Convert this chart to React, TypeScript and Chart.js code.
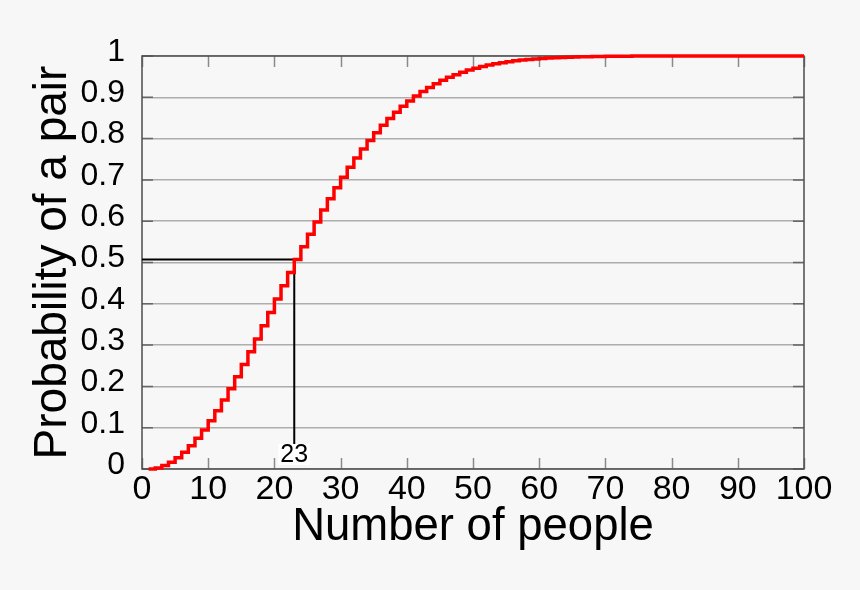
import React, { useEffect, useRef } from "react";
import { Chart, registerables } from "chart.js";

Chart.register(...registerables);

// Number of people (1..100)
const people: number[] = [
  1, 2, 3, 4, 5, 6, 7, 8, 9, 10,
  11, 12, 13, 14, 15, 16, 17, 18, 19, 20,
  21, 22, 23, 24, 25, 26, 27, 28, 29, 30,
  31, 32, 33, 34, 35, 36, 37, 38, 39, 40,
  41, 42, 43, 44, 45, 46, 47, 48, 49, 50,
  51, 52, 53, 54, 55, 56, 57, 58, 59, 60,
  61, 62, 63, 64, 65, 66, 67, 68, 69, 70,
  71, 72, 73, 74, 75, 76, 77, 78, 79, 80,
  81, 82, 83, 84, 85, 86, 87, 88, 89, 90,
  91, 92, 93, 94, 95, 96, 97, 98, 99, 100,
];

// Probability of a shared birthday
const probability: number[] = [
  0, 0.0027, 0.0082, 0.0164, 0.0271, 0.0405, 0.0562, 0.0743, 0.0946, 0.1169,
  0.1411, 0.167, 0.1944, 0.2231, 0.2529, 0.2836, 0.315, 0.3469, 0.3791, 0.4114,
  0.4437, 0.4757, 0.5073, 0.5383, 0.5687, 0.5982, 0.6269, 0.6545, 0.681, 0.7063,
  0.7305, 0.7533, 0.775, 0.7953, 0.8144, 0.8322, 0.8487, 0.8641, 0.8782, 0.8912,
  0.9032, 0.914, 0.9239, 0.9329, 0.941, 0.9483, 0.9548, 0.9606, 0.9658, 0.9704,
  0.9744, 0.978, 0.9811, 0.9839, 0.9863, 0.9883, 0.9901, 0.9917, 0.993, 0.9941,
  0.9951, 0.9959, 0.9966, 0.9972, 0.9977, 0.9981, 0.9984, 0.9987, 0.999, 0.9992,
  0.9994, 0.9995, 0.9996, 0.9997, 0.9997, 0.9998, 0.9998, 0.9999, 0.9999, 0.9999,
  1, 1, 1, 1, 1, 1, 1, 1, 1, 1,
  1, 1, 1, 1, 1, 1, 1, 1, 1, 1,
];

const xTickValues: number[] = [0, 10, 20, 30, 40, 50, 60, 70, 80, 90, 100];
const xTickLabels: string[] = ["0", "10", "20", "30", "40", "50", "60", "70", "80", "90", "100"];
const yTickValues: number[] = [0, 0.1, 0.2, 0.3, 0.4, 0.5, 0.6, 0.7, 0.8, 0.9, 1];
const yTickLabels: string[] = ["0", "0.1", "0.2", "0.3", "0.4", "0.5", "0.6", "0.7", "0.8", "0.9", "1"];

const markPeople = 23;
const markLabel = "23";

const FONT = "'Liberation Sans', Arial, sans-serif";
const BG = "#f7f7f7";

export default function App() {
  const ref = useRef<HTMLCanvasElement | null>(null);

  useEffect(() => {
    const canvas = ref.current;
    if (!canvas) return;
    const markProb = probability[people.indexOf(markPeople)];

    const framePlugin = {
      id: "framePlugin",
      beforeDraw(chart: any) {
        const { ctx, width, height } = chart;
        ctx.save();
        ctx.fillStyle = BG;
        ctx.fillRect(0, 0, width, height);
        ctx.restore();
      },
      beforeDatasetsDraw(chart: any) {
        const { ctx, chartArea } = chart;
        const { left, right, top, bottom } = chartArea;
        const xs = chart.scales.x;
        const ys = chart.scales.y;
        ctx.save();
        ctx.lineCap = "butt";
        // x tick marks (inside)
        ctx.strokeStyle = "#8a8a8a";
        ctx.lineWidth = 1.5;
        ctx.beginPath();
        xTickValues.forEach((v) => {
          const px = Math.round(xs.getPixelForValue(v)) + 0.5;
          ctx.moveTo(px, bottom);
          ctx.lineTo(px, bottom - 11);
          ctx.moveTo(px, top);
          ctx.lineTo(px, top + 11);
        });
        ctx.stroke();
        // y tick marks (inside)
        ctx.strokeStyle = "#666";
        ctx.beginPath();
        yTickValues.forEach((v) => {
          const py = ys.getPixelForValue(v);
          ctx.moveTo(left, py);
          ctx.lineTo(left + 11, py);
          ctx.moveTo(right, py);
          ctx.lineTo(right - 11, py);
        });
        ctx.stroke();
        // frame
        ctx.strokeStyle = "#4d4d4d";
        ctx.lineWidth = 1.5;
        ctx.strokeRect(left, top, right - left, bottom - top);
        // reference lines
        const hx = xs.getPixelForValue(markPeople);
        const hy = ys.getPixelForValue(markProb);
        ctx.strokeStyle = "#000";
        ctx.lineWidth = 2;
        ctx.beginPath();
        ctx.moveTo(left, hy);
        ctx.lineTo(hx, hy);
        ctx.lineTo(hx, bottom - 24);
        ctx.stroke();
        ctx.restore();
      },
      afterDatasetsDraw(chart: any) {
        const { ctx, chartArea } = chart;
        const { bottom } = chartArea;
        const xs = chart.scales.x;
        const hx = xs.getPixelForValue(markPeople);
        ctx.save();
        ctx.font = `25px ${FONT}`;
        const w = ctx.measureText(markLabel).width;
        ctx.fillStyle = "#ffffff";
        ctx.fillRect(hx - w / 2 - 2, bottom - 25, w + 4, 21);
        ctx.fillStyle = "#000";
        ctx.textAlign = "center";
        ctx.textBaseline = "middle";
        ctx.fillText(markLabel, hx, bottom - 14);
        ctx.restore();
      },
    };

    const chart = new Chart(canvas, {
      type: "line",
      data: {
        datasets: [
          {
            data: people.map((n, i) => ({ x: n, y: probability[i] })),
            borderColor: "#ff0000",
            borderWidth: 3.5,
            stepped: "before",
            pointRadius: 0,
            fill: false,
            borderJoinStyle: "miter",
            borderCapStyle: "butt",
            clip: 6,
          } as any,
        ],
      },
      options: {
        animation: false,
        responsive: false,
        maintainAspectRatio: false,
        layout: { padding: { top: 56, right: 56, left: 0, bottom: 0 } },
        plugins: {
          legend: { display: false },
          tooltip: { enabled: false },
        },
        scales: {
          x: {
            type: "linear",
            min: 0,
            max: 100,
            afterFit(scale: any) {
              scale.height = 121;
            },
            afterBuildTicks(scale: any) {
              scale.ticks = xTickValues.map((v) => ({ value: v }));
            },
            grid: { display: false, drawTicks: false },
            border: { display: false },
            ticks: {
              padding: 0,
              color: "#000",
              font: { family: FONT, size: 34 },
              maxRotation: 0,
              autoSkip: false,
              callback: (v: any) => {
                const i = xTickValues.indexOf(Number(v));
                return i >= 0 ? xTickLabels[i] : "";
              },
            },
            title: {
              display: true,
              text: "Number of people",
              color: "#000",
              font: { family: FONT, size: 45.5 },
              padding: { top: 0, bottom: 35 },
            },
          },
          y: {
            type: "linear",
            min: 0,
            max: 1,
            afterFit(scale: any) {
              scale.width = 142;
            },
            afterBuildTicks(scale: any) {
              scale.ticks = yTickValues.map((v) => ({ value: v }));
            },
            grid: { display: true, drawTicks: false, color: "#adadad", lineWidth: 1.5 },
            border: { display: false },
            ticks: {
              padding: 17,
              labelOffset: -4,
              color: "#000",
              font: { family: FONT, size: 32 },
              autoSkip: false,
              callback: (v: any) => {
                const i = yTickValues.findIndex((t) => Math.abs(t - Number(v)) < 1e-9);
                return i >= 0 ? yTickLabels[i] : "";
              },
            },
            title: {
              display: true,
              text: "Probability of a pair",
              color: "#000",
              font: { family: FONT, size: 46 },
              padding: { top: 26, bottom: 0 },
            },
          },
        },
      },
      plugins: [framePlugin],
    } as any);

    return () => chart.destroy();
  }, []);

  return (
    <div style={{ position: "fixed", left: 0, top: 0, width: 860, height: 590, background: BG }}>
      <canvas ref={ref} width={860} height={590} style={{ display: "block", width: 860, height: 590 }} />
    </div>
  );
}
